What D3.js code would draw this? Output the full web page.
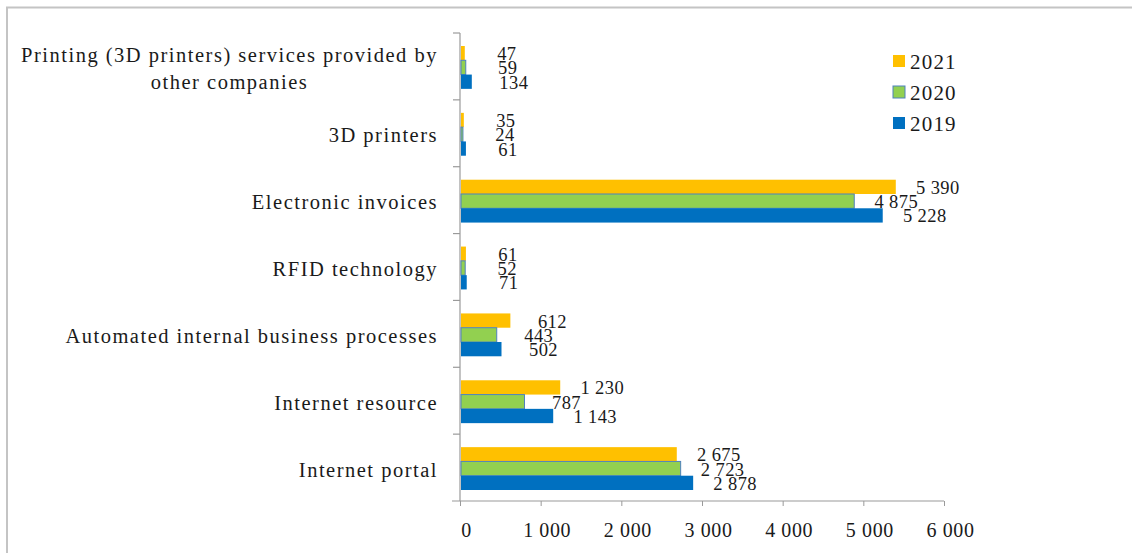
<!DOCTYPE html>
<html>
<head>
<meta charset="utf-8">
<script src="https://cdn.jsdelivr.net/npm/d3@7"></script>
<style>
  html, body { margin: 0; padding: 0; background: #fff; }
  svg { display: block; }
  text { font-family: "Liberation Serif", "Times New Roman", serif; fill: #1a1a1a; }
</style>
</head>
<body>
<svg id="chart" width="1132" height="553"></svg>
<script>
// Categories, listed top to bottom as drawn
const categories = [
  ["Printing (3D printers) services provided by", "other companies"],
  ["3D printers"],
  ["Electronic invoices"],
  ["RFID technology"],
  ["Automated internal business processes"],
  ["Internet resource"],
  ["Internet portal"]
];
const years = ["2021", "2020", "2019"];
const values2021 = [47, 35, 5390, 61, 612, 1230, 2675];
const values2020 = [59, 24, 4875, 52, 443, 787, 2723];
const values2019 = [134, 61, 5228, 71, 502, 1143, 2878];
const xTicks = [0, 1000, 2000, 3000, 4000, 5000, 6000];

const seriesValues = { "2021": values2021, "2020": values2020, "2019": values2019 };
const fills = { "2021": "#FFC000", "2020": "#92D050", "2019": "#0070C0" };
const strokes = { "2021": "none", "2020": "#4F81BD", "2019": "none" };

const svg = d3.select("#chart");
const W = 1132, H = 553;

// outer frame
svg.append("rect")
  .attr("x", 7).attr("y", 7.5)
  .attr("width", W + 20).attr("height", H + 20)
  .attr("fill", "none").attr("stroke", "#c4c4c4").attr("stroke-width", 2);

const plot = { left: 460, right: 944, top: 33, bottom: 501 };

const x = d3.scaleLinear().domain([0, 6000]).range([plot.left, plot.right]);
const y = d3.scaleBand().domain(d3.range(categories.length))
  .range([plot.top, plot.bottom]).paddingInner(0).paddingOuter(0);
const inner = d3.scaleBand().domain(years)
  .range([1, y.bandwidth() + 1]).paddingInner(0).paddingOuter(0.84);

const locale = d3.formatLocale({ decimal: ",", thousands: " ", grouping: [3], currency: ["", ""] });
const fmt = locale.format(",d");

// value axis
const xAxis = svg.append("g").attr("transform", `translate(0,${plot.bottom})`)
  .call(d3.axisBottom(x).tickValues(xTicks).tickSize(5).tickFormat(fmt));
xAxis.select(".domain").remove();
xAxis.selectAll(".tick line").attr("stroke", "#9a9a9a");
xAxis.selectAll(".tick text")
  .attr("font-size", 20).attr("dx", 6).attr("y", 0).attr("dy", 0)
  .attr("transform", "translate(0,29)")
  .attr("dominant-baseline", "central")
  .style("font-family", "Liberation Serif, serif")
  .style("letter-spacing", "0.6px")
  .attr("fill", "#1a1a1a");
svg.append("line")
  .attr("x1", plot.left - 8).attr("x2", plot.right)
  .attr("y1", plot.bottom).attr("y2", plot.bottom)
  .attr("stroke", "#9a9a9a").attr("stroke-width", 1.2);

// category axis
svg.append("line")
  .attr("x1", plot.left).attr("x2", plot.left)
  .attr("y1", plot.top).attr("y2", plot.bottom)
  .attr("stroke", "#9a9a9a").attr("stroke-width", 1.2);
const boundaries = d3.range(categories.length).map(i => y(i));
svg.selectAll("line.cattick").data(boundaries).join("line")
  .attr("class", "cattick")
  .attr("x1", plot.left - 7).attr("x2", plot.left)
  .attr("y1", d => d).attr("y2", d => d)
  .attr("stroke", "#9a9a9a").attr("stroke-width", 1.2);

// bars
years.forEach(yr => {
  const g = svg.append("g");
  g.selectAll("rect").data(seriesValues[yr]).join("rect")
    .attr("x", x(0) + 1)
    .attr("y", (d, i) => y(i) + inner(yr))
    .attr("width", d => Math.max(0, x(d) - x(0)))
    .attr("height", inner.bandwidth())
    .attr("fill", fills[yr])
    .attr("stroke", strokes[yr])
    .attr("stroke-width", 1);
});

// value labels
years.forEach(yr => {
  svg.append("g").selectAll("text").data(seriesValues[yr]).join("text")
    .attr("x", d => x(d) + 43)
    .attr("y", (d, i) => y(i) + inner(yr) + inner.bandwidth() / 2 + 1)
    .attr("text-anchor", "middle")
    .attr("dominant-baseline", "central")
    .attr("font-size", 18.5)
    .style("letter-spacing", "0.4px")
    .text(d => fmt(d));
});

// category labels
const labelRight = 438;
const catStyle = sel => sel
  .attr("font-size", 20.5)
  .attr("dominant-baseline", "central")
  .style("letter-spacing", "1.5px");
categories.forEach((lines, i) => {
  const cy = y(i) + y.bandwidth() / 2 + 2;
  const lh = 27;
  const g = svg.append("g");
  const first = g.append("text")
    .attr("x", labelRight)
    .attr("text-anchor", "end")
    .attr("y", cy - (lines.length - 1) * lh / 2)
    .call(catStyle)
    .text(lines[0]);
  if (lines.length > 1) {
    const w = first.node().getComputedTextLength();
    const cx = labelRight - w / 2;
    first.attr("x", cx).attr("text-anchor", "middle");
    lines.slice(1).forEach((ln, k) => {
      g.append("text")
        .attr("x", cx)
        .attr("text-anchor", "middle")
        .attr("y", cy - (lines.length - 1) * lh / 2 + (k + 1) * lh)
        .call(catStyle)
        .text(ln);
    });
  }
});

// legend
const legend = svg.append("g").attr("transform", "translate(893,61)");
years.forEach((yr, i) => {
  const row = legend.append("g").attr("transform", `translate(0,${i * 31})`);
  row.append("rect")
    .attr("x", 0).attr("y", -6).attr("width", 12).attr("height", 12)
    .attr("fill", fills[yr])
    .attr("stroke", strokes[yr]).attr("stroke-width", 1);
  row.append("text")
    .attr("x", 17).attr("y", 1)
    .attr("dominant-baseline", "central")
    .attr("font-size", 21)
    .style("letter-spacing", "1.2px")
    .text(yr);
});
</script>
</body>
</html>
